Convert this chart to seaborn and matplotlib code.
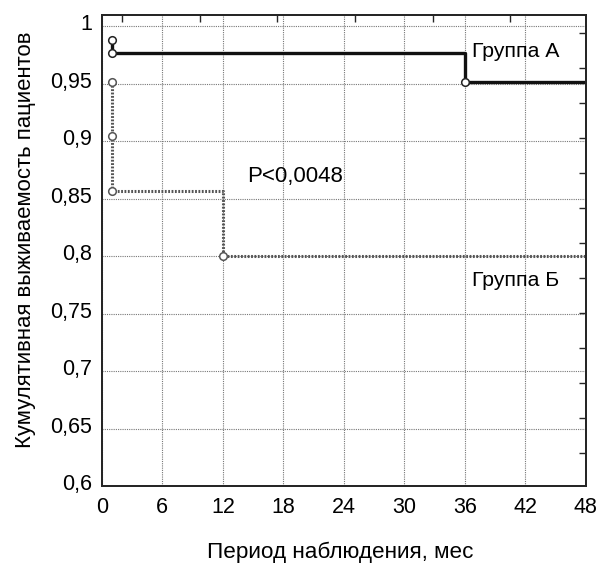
import matplotlib
matplotlib.use("Agg")
import matplotlib.pyplot as plt
import matplotlib.transforms as mtransforms
import seaborn as sns
import pandas as pd

# Data
a_time = [1, 1, 36, 48]
a_surv = [0.988, 0.977, 0.952, 0.952]
a_cens_time = [1, 1, 36]
a_cens_surv = [0.988, 0.977, 0.952]

b_time = [1, 1, 1, 12, 48]
b_surv = [0.952, 0.905, 0.857, 0.800, 0.800]
b_cens_time = [1, 1, 1, 12]
b_cens_surv = [0.952, 0.905, 0.857, 0.800]

x_ticks = [0, 6, 12, 18, 24, 30, 36, 42, 48]
y_ticks = [0.6, 0.65, 0.7, 0.75, 0.8, 0.85, 0.9, 0.95, 1.0]
y_tick_labels = ["0,6", "0,65", "0,7", "0,75", "0,8", "0,85", "0,9", "0,95", "1"]
top_minor = [2.0, 9.7, 17.4, 25.1, 32.8, 40.5]
right_minor = [0.9943, 0.9639, 0.9335, 0.9030, 0.8726, 0.8422, 0.8117,
               0.7813, 0.7509, 0.7204, 0.6900, 0.6596, 0.6291]

sns.set_theme(style="white")
plt.rcParams['font.family'] = ['Liberation Sans', 'DejaVu Sans']
plt.rcParams['text.color'] = 'black'
plt.rcParams['axes.labelcolor'] = 'black'

fig = plt.figure(figsize=(5.99, 5.66), dpi=100)
ax = fig.add_axes([0.170, 0.1405, 0.808, 0.833])

dfa = pd.DataFrame({"t": a_time, "s": a_surv})
dfb = pd.DataFrame({"t": b_time, "s": b_surv})

sns.lineplot(data=dfa, x="t", y="s", ax=ax, estimator=None, sort=False,
             drawstyle="steps-post", color="#111111", linewidth=2.4, zorder=3)
sns.lineplot(data=dfb, x="t", y="s", ax=ax, estimator=None, sort=False,
             drawstyle="steps-post", color="#555555", linewidth=2.2,
             linestyle=(0, (0.6, 0.5)), zorder=3)

sns.scatterplot(x=a_cens_time, y=a_cens_surv, ax=ax, s=30, marker="o",
                facecolor="white", edgecolor="#222222", linewidth=1.1, zorder=4)
sns.scatterplot(x=b_cens_time, y=b_cens_surv, ax=ax, s=30, marker="o",
                facecolor="white", edgecolor="#555555", linewidth=1.1, zorder=4)

ax.set_xlim(0, 48)
ax.set_ylim(0.6, 1.01)
ax.set_xticks(x_ticks)
ax.set_xticklabels([str(v) for v in x_ticks])
ax.set_yticks(y_ticks)
ax.set_yticklabels(y_tick_labels)
ax.tick_params(axis="both", labelsize=15.5, length=0, colors="black")
ax.tick_params(axis="y", pad=7)
ax.tick_params(axis="x", pad=7.5)
shift = mtransforms.ScaledTranslation(0, 4 / 100, fig.dpi_scale_trans)
for lbl in ax.get_yticklabels():
    lbl.set_transform(lbl.get_transform() + shift)
ax.grid(True, linestyle=(0, (1, 1)), color="#777777", linewidth=0.8)

for sp in ax.spines.values():
    sp.set_visible(True)
    sp.set_color("black")
    sp.set_linewidth(1.2)

ax.set_xlabel("Период наблюдения, мес", fontsize=16.2, va="top")
ax.xaxis.set_label_coords(0.4928, -0.117)
ax.set_ylabel("Кумулятивная выживаемость пациентов", fontsize=15.9)
ax.yaxis.set_label_coords(-0.135, 0.524)

ax.text(36.75, 0.9735, "Группа А", fontsize=15.3, ha="left", va="baseline")
ax.text(36.75, 0.7746, "Группа Б", fontsize=15.3, ha="left", va="baseline")
ax.text(14.4, 0.8645, "P<0,0048", fontsize=16, ha="left", va="baseline")

# decorative inward ticks on top and right
axt = ax.twiny()
axt.set_xlim(ax.get_xlim())
axt.set_xticks(top_minor)
axt.tick_params(axis="x", direction="in", length=5, width=1, labeltop=False)
axr = ax.twinx()
axr.set_ylim(ax.get_ylim())
axr.set_yticks(right_minor)
axr.tick_params(axis="y", direction="in", length=5, width=1, labelright=False)
axr.grid(False)
axt.grid(False)

fig.savefig("out.png", dpi=100)
